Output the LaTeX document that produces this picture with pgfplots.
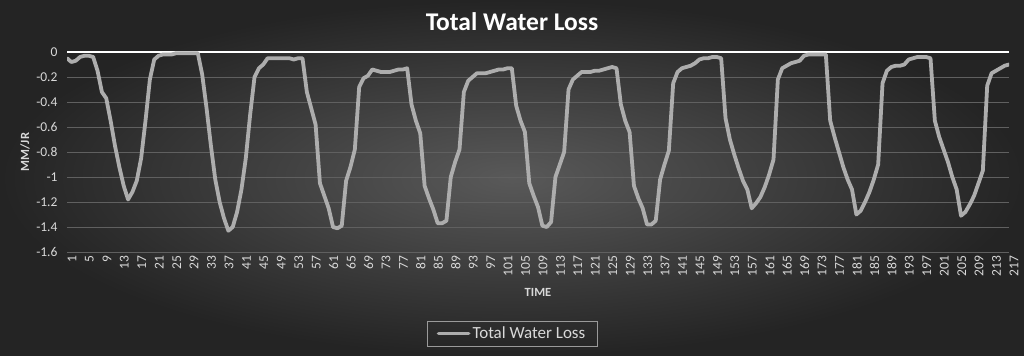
\documentclass[border=0pt]{standalone}
\usepackage{fontspec}
\setmainfont{Carlito}
\usepackage{pgfplots}
\pgfplotsset{compat=1.18}
\usepackage{pgfplotstable}
\definecolor{bginner}{HTML}{595959}
\definecolor{bgouter}{HTML}{242424}
\definecolor{linegray}{HTML}{ADADAD}
\definecolor{gridgray}{HTML}{606060}
\definecolor{labelgray}{HTML}{D9D9D9}
\definecolor{legendbox}{HTML}{9A9A9A}

\pgfplotstableread{
t v
1 -0.05
2 -0.08
3 -0.07
4 -0.04
5 -0.03
6 -0.03
7 -0.04
8 -0.15
9 -0.32
10 -0.37
11 -0.55
12 -0.75
13 -0.92
14 -1.07
15 -1.18
16 -1.12
17 -1.03
18 -0.85
19 -0.55
20 -0.22
21 -0.06
22 -0.03
23 -0.02
24 -0.02
25 -0.02
26 -0.01
27 -0.01
28 -0.01
29 -0.01
30 -0.01
31 -0.01
32 -0.18
33 -0.45
34 -0.75
35 -1.02
36 -1.20
37 -1.33
38 -1.43
39 -1.40
40 -1.28
41 -1.10
42 -0.85
43 -0.50
44 -0.20
45 -0.13
46 -0.10
47 -0.05
48 -0.05
49 -0.05
50 -0.05
51 -0.05
52 -0.05
53 -0.06
54 -0.05
55 -0.05
56 -0.32
57 -0.45
58 -0.58
59 -1.05
60 -1.15
61 -1.25
62 -1.40
63 -1.41
64 -1.39
65 -1.03
66 -0.92
67 -0.78
68 -0.28
69 -0.21
70 -0.19
71 -0.14
72 -0.15
73 -0.16
74 -0.16
75 -0.16
76 -0.15
77 -0.14
78 -0.14
79 -0.13
80 -0.42
81 -0.55
82 -0.65
83 -1.07
84 -1.17
85 -1.26
86 -1.37
87 -1.37
88 -1.35
89 -1.00
90 -0.88
91 -0.78
92 -0.32
93 -0.23
94 -0.20
95 -0.17
96 -0.17
97 -0.17
98 -0.16
99 -0.15
100 -0.14
101 -0.14
102 -0.13
103 -0.13
104 -0.43
105 -0.55
106 -0.64
107 -1.05
108 -1.15
109 -1.24
110 -1.39
111 -1.40
112 -1.36
113 -1.00
114 -0.90
115 -0.80
116 -0.30
117 -0.22
118 -0.19
119 -0.16
120 -0.16
121 -0.16
122 -0.15
123 -0.15
124 -0.14
125 -0.13
126 -0.12
127 -0.13
128 -0.42
129 -0.55
130 -0.64
131 -1.07
132 -1.17
133 -1.25
134 -1.38
135 -1.38
136 -1.35
137 -1.02
138 -0.90
139 -0.79
140 -0.25
141 -0.16
142 -0.13
143 -0.12
144 -0.11
145 -0.09
146 -0.06
147 -0.05
148 -0.05
149 -0.04
150 -0.04
151 -0.05
152 -0.53
153 -0.70
154 -0.82
155 -0.93
156 -1.03
157 -1.10
158 -1.25
159 -1.21
160 -1.16
161 -1.08
162 -0.98
163 -0.86
164 -0.22
165 -0.13
166 -0.11
167 -0.09
168 -0.08
169 -0.07
170 -0.03
171 -0.02
172 -0.02
173 -0.02
174 -0.02
175 -0.02
176 -0.55
177 -0.68
178 -0.80
179 -0.92
180 -1.02
181 -1.10
182 -1.30
183 -1.27
184 -1.20
185 -1.12
186 -1.02
187 -0.90
188 -0.25
189 -0.15
190 -0.12
191 -0.11
192 -0.11
193 -0.10
194 -0.06
195 -0.05
196 -0.04
197 -0.04
198 -0.04
199 -0.05
200 -0.55
201 -0.68
202 -0.78
203 -0.88
204 -1.00
205 -1.10
206 -1.31
207 -1.28
208 -1.22
209 -1.15
210 -1.05
211 -0.95
212 -0.27
213 -0.17
214 -0.15
215 -0.13
216 -0.11
217 -0.10
}\losstable

\begin{document}
\begin{tikzpicture}
\shade[inner color=bginner, outer color=bgouter] (0,0) rectangle (1024bp,356bp);
\node[text=white, font=\bfseries\fontsize{25.5bp}{30bp}\selectfont] at (512bp,334bp) {Total Water Loss};
\begin{axis}[
  at={(67bp,104bp)}, anchor=south west,
  width=942bp, height=200bp, scale only axis,
  xmin=1, xmax=217, ymin=-1.6, ymax=0,
  axis line style={draw=none},
  tick style={draw=none},
  xtick={1,5,...,217},
  /pgf/number format/assume math mode=true,
  x tick label style={rotate=90, anchor=east, yshift=-5bp, text=labelgray, font=\fontsize{13.5bp}{15bp}\selectfont},
  ytick={-1.6,-1.4,-1.2,-1,-0.8,-0.6,-0.4,-0.2},
  yticklabels={-1.6,-1.4,-1.2,-1,-0.8,-0.6,-0.4,-0.2},
  extra y ticks={0},
  extra y tick labels={0},
  extra y tick style={grid style={white, line width=2.8bp}},
  y tick label style={anchor=east, xshift=-6bp, text=labelgray, font=\fontsize{13.5bp}{15bp}\selectfont},
  ymajorgrids,
  grid style={gridgray, line width=0.8bp},
  xlabel={TIME},
  ylabel={MM/JR},
  every axis x label/.style={at={(axis description cs:0.5,-0.2)}, anchor=center, text=labelgray, font=\bfseries\fontsize{12.5bp}{14bp}\selectfont},
  every axis y label/.style={at={(axis description cs:-0.0446,0.5)}, rotate=90, anchor=center, text=labelgray, font=\bfseries\fontsize{12.5bp}{14bp}\selectfont},
  legend style={at={(0.4724,-0.4075)}, anchor=center, draw=legendbox, fill=none, text=labelgray, font=\fontsize{17bp}{20bp}\selectfont, inner xsep=10bp, inner ysep=4bp},
  legend image code/.code={\draw[#1] (0bp,0bp) -- (30bp,0bp);},
]
\addplot[linegray, line width=3.8bp, line join=round, line cap=round, mark=none] table[x=t, y=v] {\losstable};
\addlegendentry{Total Water Loss}
\end{axis}
\pgfresetboundingbox
\useasboundingbox (0,0) rectangle (1024bp,356bp);
\end{tikzpicture}
\end{document}
